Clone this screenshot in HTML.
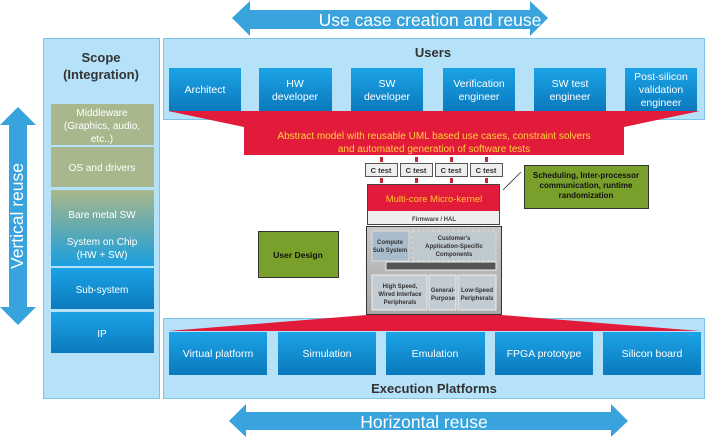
<!DOCTYPE html>
<html><head><meta charset="utf-8"><style>
body{margin:0;background:#fff;width:708px;height:439px;overflow:hidden}
svg{display:block}
text{font-family:"Liberation Sans",sans-serif}
</style></head><body>
<svg width="708" height="439" viewBox="0 0 708 439" xmlns="http://www.w3.org/2000/svg">
<defs>
<linearGradient id="btn" x1="0" y1="0" x2="0" y2="1"><stop offset="0" stop-color="#1ba3e6"/><stop offset="1" stop-color="#0b79bd"/></linearGradient>
<linearGradient id="soc" x1="0" y1="0" x2="0" y2="1"><stop offset="0" stop-color="#a9b88c"/><stop offset="0.5" stop-color="#62aab0"/><stop offset="1" stop-color="#1a9fe0"/></linearGradient>
<linearGradient id="gray" x1="0" y1="0" x2="0" y2="1"><stop offset="0" stop-color="#c8c8c8"/><stop offset="1" stop-color="#a8a8a8"/></linearGradient>
</defs>
<!-- top arrow -->
<polygon points="232,18 250,1 250,10 530,10 530,1 548,18 530,36 530,29 250,29 250,36" fill="#38a3dc"/>
<text x="430" y="26" font-size="17.5" fill="#fff" text-anchor="middle">Use case creation and reuse</text>
<!-- vertical arrow -->
<polygon points="18,107 36,125 27,125 27,307 36,307 18,325 0,307 9,307 9,125 0,125" fill="#38a3dc"/>
<text transform="translate(23,216) rotate(-90)" font-size="17.5" fill="#fff" text-anchor="middle">Vertical reuse</text>
<!-- bottom arrow -->
<polygon points="229,421 246,404 246,412 611,412 611,404 628,421 611,437 611,430 246,430 246,437" fill="#38a3dc"/>
<text x="424" y="428" font-size="17.5" fill="#fff" text-anchor="middle">Horizontal reuse</text>
<!-- scope panel -->
<rect x="43.5" y="38.5" width="116" height="360" fill="#b5e2f8" stroke="#7cc4e8"/>
<text x="101" y="62" font-size="13" font-weight="bold" fill="#333" text-anchor="middle">Scope</text>
<text x="101" y="79" font-size="13" font-weight="bold" fill="#333" text-anchor="middle">(Integration)</text>
<rect x="51" y="104" width="103" height="41" fill="#a9b88c"/>
<text font-size="10" fill="#fff" text-anchor="middle"><tspan x="102" y="116">Middleware</tspan><tspan x="102" y="129">(Graphics, audio,</tspan><tspan x="102" y="142">etc..)</tspan></text>
<rect x="51" y="147" width="103" height="40" fill="#a9b88c"/>
<text x="102" y="171" font-size="10" fill="#fff" text-anchor="middle">OS and drivers</text>
<rect x="51" y="190" width="103" height="76" fill="url(#soc)"/>
<text x="102" y="218" font-size="10" fill="#fff" text-anchor="middle">Bare metal SW</text>
<text font-size="10" fill="#fff" text-anchor="middle"><tspan x="102" y="245">System on Chip</tspan><tspan x="102" y="258">(HW + SW)</tspan></text>
<rect x="51" y="268" width="103" height="41" fill="url(#btn)"/>
<text x="102" y="293" font-size="10" fill="#fff" text-anchor="middle">Sub-system</text>
<rect x="51" y="312" width="103" height="41" fill="url(#btn)"/>
<text x="102" y="337" font-size="10" fill="#fff" text-anchor="middle">IP</text>
<!-- users panel -->
<rect x="163.5" y="38.5" width="541" height="81" fill="#b5e2f8" stroke="#7cc4e8"/>
<text x="433" y="57" font-size="13" font-weight="bold" fill="#333" text-anchor="middle">Users</text>
<!-- red funnel top -->
<polygon points="168,111 700,111 624,127 624,155 244,155 244,127" fill="#e31b3a"/>
<g font-size="10.5" fill="#fff" text-anchor="middle">
<rect x="169" y="68" width="72" height="43" fill="url(#btn)"/><text x="205" y="93">Architect</text>
<rect x="259" y="68" width="73" height="43" fill="url(#btn)"/><text x="295" y="87">HW</text><text x="295" y="100">developer</text>
<rect x="351" y="68" width="72" height="43" fill="url(#btn)"/><text x="387" y="87">SW</text><text x="387" y="100">developer</text>
<rect x="443" y="68" width="72" height="43" fill="url(#btn)"/><text x="479" y="87">Verification</text><text x="479" y="100">engineer</text>
<rect x="534" y="68" width="72" height="43" fill="url(#btn)"/><text x="570" y="87">SW test</text><text x="570" y="100">engineer</text>
<rect x="625" y="68" width="72" height="43" fill="url(#btn)"/><text x="661" y="80">Post-silicon</text><text x="661" y="93">validation</text><text x="661" y="106">engineer</text>
</g>
<text font-size="10" fill="#ffd23c" text-anchor="middle"><tspan x="434" y="139">Abstract model with reusable UML based use cases, constraint solvers</tspan><tspan x="434" y="152">and automated generation of software tests</tspan></text>
<!-- C tests -->
<g fill="#c0283a">
<rect x="380" y="157" width="3" height="5"/><rect x="415" y="157" width="3" height="5"/><rect x="450" y="157" width="3" height="5"/><rect x="485" y="157" width="3" height="5"/>
<rect x="380" y="178" width="3" height="5"/><rect x="415" y="178" width="3" height="5"/><rect x="450" y="178" width="3" height="5"/><rect x="485" y="178" width="3" height="5"/>
</g>
<g font-size="7.5" font-weight="bold" fill="#333" text-anchor="middle">
<rect x="365.5" y="163.5" width="32" height="13" fill="#eee" stroke="#555"/><text x="381" y="173">C test</text>
<rect x="400.5" y="163.5" width="32" height="13" fill="#eee" stroke="#555"/><text x="416" y="173">C test</text>
<rect x="435.5" y="163.5" width="32" height="13" fill="#eee" stroke="#555"/><text x="451" y="173">C test</text>
<rect x="470.5" y="163.5" width="32" height="13" fill="#eee" stroke="#555"/><text x="486" y="173">C test</text>
</g>
<!-- kernel -->
<rect x="367.5" y="184.5" width="132" height="40" fill="#eee" stroke="#444"/>
<rect x="368" y="185" width="131" height="26" fill="#e31b3a"/>
<text x="434" y="202" font-size="9.5" fill="#ffc52e" text-anchor="middle">Multi-core Micro-kernel</text>
<text x="434" y="221" font-size="6" font-weight="bold" fill="#444" text-anchor="middle">Firmware / HAL</text>
<!-- gray soc -->
<rect x="366.5" y="226.5" width="135" height="88" fill="url(#gray)" stroke="#333"/>
<rect x="372" y="231" width="37" height="30" fill="#a9bccb" stroke="#ddd"/>
<rect x="412" y="231" width="84" height="30" fill="#bfc9d0" stroke="#ddd" stroke-dasharray="3,2"/>
<rect x="386" y="262" width="110" height="8" fill="#555" stroke="#eee"/>
<rect x="372" y="275" width="55" height="35" fill="#c3ccd3" stroke="#eee"/>
<rect x="429" y="275" width="27" height="35" fill="#c3ccd3" stroke="#eee"/>
<rect x="458" y="275" width="38" height="35" fill="#c3ccd3" stroke="#eee"/>
<g font-size="6" font-weight="bold" fill="#333" text-anchor="middle">
<text x="390" y="244">Compute</text><text x="390" y="252">Sub System</text>
<text x="454" y="240">Customer's</text><text x="454" y="248">Application-Specific</text><text x="454" y="256">Components</text>
<text x="400" y="288">High Speed,</text><text x="400" y="296">Wired Interface</text><text x="400" y="304">Peripherals</text>
<text x="443" y="292">General-</text><text x="443" y="300">Purpose</text>
<text x="477" y="292">Low-Speed</text><text x="477" y="300">Peripherals</text>
</g>
<!-- green boxes -->
<line x1="503" y1="190" x2="521" y2="172" stroke="#333" stroke-width="0.8"/>
<rect x="524.5" y="165.5" width="124" height="43" fill="#7aa02c" stroke="#333"/>
<text font-size="8" font-weight="bold" fill="#111" text-anchor="middle"><tspan x="586" y="178">Scheduling, Inter-processor</tspan><tspan x="586" y="188">communication, runtime</tspan><tspan x="586" y="198">randomization</tspan></text>
<rect x="258.5" y="231.5" width="80" height="46" fill="#7aa02c" stroke="#333"/>
<text x="298" y="258" font-size="8.5" font-weight="bold" fill="#111" text-anchor="middle">User Design</text>
<!-- execution panel -->
<rect x="163.5" y="318.5" width="541" height="80" fill="#b5e2f8" stroke="#7cc4e8"/>
<polygon points="367,315 502,315 700,331 168,331" fill="#e31b3a"/>
<g font-size="10.5" fill="#fff" text-anchor="middle">
<rect x="169" y="332" width="98" height="43" fill="url(#btn)"/><text x="218" y="357">Virtual platform</text>
<rect x="278" y="332" width="98" height="43" fill="url(#btn)"/><text x="327" y="357">Simulation</text>
<rect x="386" y="332" width="99" height="43" fill="url(#btn)"/><text x="435" y="357">Emulation</text>
<rect x="495" y="332" width="98" height="43" fill="url(#btn)"/><text x="544" y="357">FPGA prototype</text>
<rect x="603" y="332" width="98" height="43" fill="url(#btn)"/><text x="652" y="357">Silicon board</text>
</g>
<text x="434" y="393" font-size="13" font-weight="bold" fill="#333" text-anchor="middle">Execution Platforms</text>
</svg>
</body></html>
